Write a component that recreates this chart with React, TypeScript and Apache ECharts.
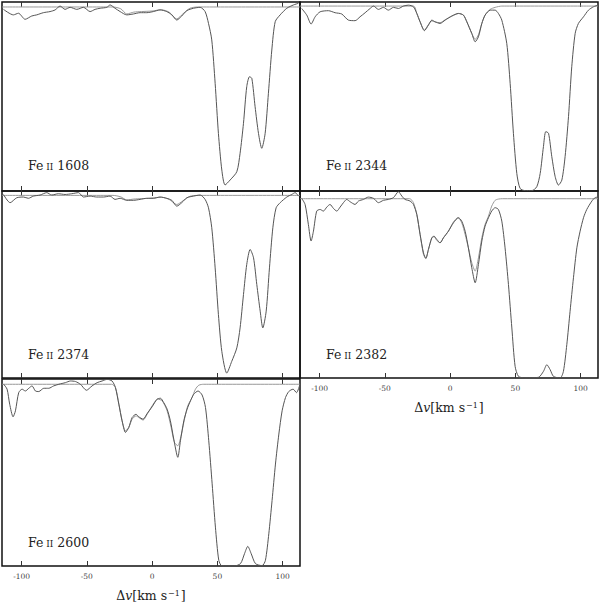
import React, { useEffect, useRef } from "react";
import * as echarts from "echarts";

// Velocity ticks (km/s)
const VEL_TICKS = [-100, -50, 0, 50, 100];
const LINE_NAMES = ["1608", "2344", "2374", "2382", "2600"];

// Fe II 1608 — observed spectrum [v, normalized flux]
const data1608: [number, number][] = [
  [-113.9, 0.987], [-106.3, 0.957], [-102.4, 0.966], [-97.3, 0.933], [-92.2, 0.951], [-88.4, 0.957],
  [-83.3, 0.969], [-78.2, 0.975], [-74.3, 0.984], [-70.5, 1.005], [-66.7, 0.987], [-62.8, 0.998],
  [-57.7, 0.987], [-52.6, 0.998], [-47.5, 0.975], [-43.7, 0.987], [-39.8, 0.993], [-34.7, 0.998],
  [-32.2, 1.011], [-28.4, 0.993], [-24.5, 0.975], [-19.4, 0.957], [-14.3, 0.962], [-9.2, 0.969],
  [-4.1, 0.969], [1.0, 0.975], [6.1, 0.984], [11.2, 0.975], [15.1, 0.957], [18.9, 0.929],
  [22.7, 0.951], [26.6, 0.98], [31.7, 0.993], [36.8, 0.998], [40.6, 0.975], [43.2, 0.911],
  [45.7, 0.821], [48.3, 0.585], [50.8, 0.313], [53.4, 0.114], [55.9, 0.033], [59.8, 0.06],
  [64.9, 0.105], [67.4, 0.205], [70.0, 0.368], [72.5, 0.567], [74.6, 0.621], [76.4, 0.612],
  [78.9, 0.458], [81.5, 0.313], [84.0, 0.232], [86.6, 0.313], [89.1, 0.531], [91.7, 0.766],
  [94.3, 0.92], [98.1, 0.957], [103.2, 0.993], [108.3, 1.011], [112.1, 1.02]
];
// Fe II 1608 — model
const model1608: [number, number][] = [
  [-115, 1.0], [-30, 1.0], [-24, 0.99], [-19.4, 0.962], [-14, 0.972], [-8, 0.975], [0, 0.978],
  [7, 0.985], [13, 0.972], [18.9, 0.935], [23.5, 0.962], [29, 0.993], [35, 1.0], [113.3, 1.0]
];

// Fe II 2344
const data2344: [number, number][] = [
  [-113.7, 0.987], [-109.8, 0.951], [-106.5, 0.903], [-103.4, 0.942], [-99.6, 0.969], [-93.2, 0.975],
  [-88.1, 0.964], [-83.0, 0.957], [-77.9, 0.924], [-72.8, 0.921], [-69.0, 0.942], [-65.1, 0.964],
  [-61.3, 0.987], [-58.7, 1.0], [-54.9, 0.982], [-51.1, 0.993], [-47.3, 0.978], [-43.4, 0.993],
  [-39.6, 0.987], [-35.8, 1.0], [-31.9, 1.005], [-28.1, 0.996], [-25.5, 0.96], [-23.0, 0.915],
  [-19.7, 0.867], [-16.6, 0.897], [-14.0, 0.924], [-11.5, 0.915], [-7.7, 0.906], [-3.8, 0.924],
  [1.3, 0.946], [6.4, 0.96], [10.2, 0.951], [12.8, 0.915], [16.6, 0.852], [19.2, 0.807],
  [21.7, 0.834], [24.3, 0.906], [26.8, 0.951], [30.7, 0.978], [34.5, 0.978], [37.0, 0.96],
  [39.6, 0.924], [43.4, 0.798], [46.0, 0.582], [48.5, 0.312], [51.1, 0.095], [53.6, 0.014],
  [57.5, 0.002], [62.6, 0.002], [66.4, 0.023], [69.0, 0.095], [71.5, 0.24], [73.3, 0.321],
  [75.4, 0.312], [77.9, 0.186], [80.5, 0.077], [83.0, 0.032], [85.6, 0.059], [88.1, 0.186],
  [90.7, 0.402], [93.2, 0.672], [95.8, 0.852], [98.3, 0.906], [102.2, 0.942], [106.0, 0.978],
  [109.8, 0.996], [113.3, 1.005]
];
const model2344: [number, number][] = [
  [-115, 1.0], [-28.1, 1.0], [-25.5, 0.96], [-23.0, 0.915], [-19.7, 0.87], [-16.6, 0.9], [-14.0, 0.92],
  [-11.5, 0.914], [-7.7, 0.91], [-3.8, 0.926], [1.3, 0.946], [6.4, 0.96], [10.2, 0.951], [12.8, 0.915],
  [16.6, 0.852], [19.2, 0.82], [21.7, 0.845], [24.3, 0.906], [26.8, 0.951], [30.7, 0.982],
  [34.5, 0.993], [39.6, 1.0], [113.3, 1.0]
];

// Fe II 2374
const data2374: [number, number][] = [
  [-113.9, 1.005], [-108.8, 0.96], [-103.7, 0.987], [-98.6, 0.991], [-94.8, 0.984], [-90.9, 0.996],
  [-85.8, 1.002], [-80.7, 1.015], [-76.9, 1.002], [-71.8, 1.009], [-66.7, 1.005], [-61.6, 1.009],
  [-56.4, 1.015], [-52.6, 0.991], [-47.5, 0.996], [-42.4, 0.991], [-37.3, 0.991], [-32.2, 0.996],
  [-28.4, 0.978], [-24.5, 0.984], [-19.4, 0.973], [-14.3, 0.973], [-9.2, 0.978], [-4.1, 0.984],
  [1.0, 0.984], [6.1, 0.991], [11.2, 0.984], [15.1, 0.973], [18.9, 0.941], [22.7, 0.96],
  [26.6, 0.987], [31.7, 0.996], [36.8, 1.002], [40.6, 0.978], [43.2, 0.932], [45.7, 0.823],
  [48.3, 0.603], [50.8, 0.347], [53.4, 0.146], [57.2, 0.027], [61.0, 0.091], [64.9, 0.165],
  [67.4, 0.274], [70.0, 0.457], [72.5, 0.622], [75.1, 0.704], [77.7, 0.658], [80.2, 0.512],
  [82.8, 0.366], [84.8, 0.274], [87.4, 0.366], [89.9, 0.603], [92.5, 0.823], [95.0, 0.932],
  [98.1, 0.96], [103.2, 0.991], [107.0, 1.005], [109.6, 1.015], [112.1, 0.996]
];
const model2374: [number, number][] = [
  [-115, 1.0], [-30, 1.0], [-24, 0.992], [-19.4, 0.975], [-14, 0.98], [-8, 0.982], [0, 0.985],
  [7, 0.99], [13, 0.978], [18.9, 0.95], [23.5, 0.97], [29, 0.995], [35, 1.0], [113.3, 1.0]
];

// Fe II 2382
const data2382: [number, number][] = [
  [-113.7, 1.002], [-111.1, 0.968], [-108.6, 0.857], [-106.5, 0.764], [-104.7, 0.819], [-102.2, 0.931],
  [-99.6, 0.94], [-97.1, 0.931], [-94.5, 0.953], [-92.0, 0.968], [-89.4, 0.946], [-86.8, 0.931],
  [-84.3, 0.953], [-81.7, 0.978], [-79.2, 0.996], [-76.6, 0.983], [-72.8, 0.968], [-70.2, 0.987],
  [-66.4, 0.996], [-62.6, 1.009], [-58.7, 1.002], [-54.9, 0.978], [-51.1, 0.991], [-47.3, 0.996],
  [-43.4, 1.006], [-39.6, 1.039], [-37.0, 1.015], [-34.5, 0.996], [-30.7, 0.987], [-28.1, 0.968],
  [-25.5, 0.912], [-23.0, 0.801], [-20.4, 0.698], [-18.6, 0.667], [-16.6, 0.717], [-14.0, 0.782],
  [-12.3, 0.791], [-10.2, 0.773], [-7.7, 0.754], [-5.1, 0.782], [-1.3, 0.819], [2.6, 0.866],
  [6.4, 0.894], [8.9, 0.875], [11.5, 0.819], [14.0, 0.726], [16.6, 0.615], [19.2, 0.531],
  [21.7, 0.633], [24.3, 0.764], [26.8, 0.847], [29.4, 0.894], [31.9, 0.931], [34.5, 0.95],
  [37.0, 0.94], [39.6, 0.875], [42.1, 0.726], [44.7, 0.521], [47.3, 0.279], [49.8, 0.065],
  [52.4, 0.009], [57.5, 0.0], [67.7, 0.004], [71.5, 0.037], [74.1, 0.074], [76.6, 0.047],
  [79.2, 0.009], [84.3, 0.0], [86.8, 0.037], [89.4, 0.186], [91.9, 0.372], [94.5, 0.559],
  [97.1, 0.726], [99.6, 0.819], [102.2, 0.894], [104.7, 0.94], [108.6, 0.987], [111.1, 1.006],
  [113.3, 1.009]
];
const model2382: [number, number][] = [
  [-115, 1.0], [-31, 1.0], [-28.1, 0.978], [-25.5, 0.912], [-23.0, 0.801], [-20.4, 0.689],
  [-18.6, 0.667], [-16.6, 0.717], [-14.0, 0.782], [-12.3, 0.788], [-10.2, 0.767], [-7.7, 0.754],
  [-5.1, 0.782], [-1.3, 0.819], [2.6, 0.871], [5.9, 0.894], [8.9, 0.866], [11.5, 0.801],
  [14.0, 0.726], [16.6, 0.643], [19.2, 0.596], [21.7, 0.67], [24.3, 0.782], [26.8, 0.857],
  [29.4, 0.903], [31.9, 0.959], [34.5, 0.991], [37.0, 0.998], [40.0, 1.0], [113.3, 1.0]
];

// Fe II 2600
const data2600: [number, number][] = [
  [-113.7, 1.0], [-111.1, 0.973], [-109.1, 0.89], [-106.5, 0.821], [-104.7, 0.854], [-102.2, 0.954],
  [-99.6, 0.973], [-97.1, 0.963], [-94.5, 0.978], [-92.0, 0.991], [-89.4, 0.963], [-86.8, 0.96],
  [-83.0, 0.978], [-79.2, 0.978], [-75.4, 0.991], [-71.5, 1.0], [-66.4, 1.009], [-62.6, 1.018],
  [-58.7, 1.015], [-54.9, 1.0], [-50.3, 0.967], [-46.0, 0.991], [-42.1, 1.009], [-38.3, 1.018],
  [-34.5, 1.027], [-30.7, 1.018], [-28.1, 0.982], [-25.5, 0.89], [-23.0, 0.799], [-20.4, 0.735],
  [-17.9, 0.762], [-15.3, 0.817], [-12.3, 0.835], [-10.2, 0.821], [-6.9, 0.808], [-3.8, 0.839],
  [0.0, 0.876], [3.8, 0.918], [6.4, 0.923], [8.9, 0.899], [11.5, 0.863], [14.0, 0.799],
  [16.6, 0.698], [19.7, 0.598], [21.7, 0.689], [24.3, 0.799], [26.8, 0.863], [29.4, 0.909],
  [31.9, 0.945], [35.2, 0.963], [38.3, 0.941], [40.9, 0.872], [43.4, 0.689], [46.0, 0.452],
  [48.5, 0.214], [51.1, 0.031], [53.6, 0.0], [62.6, 0.0], [67.7, 0.013], [70.8, 0.068],
  [73.3, 0.108], [75.9, 0.068], [79.2, 0.013], [84.3, 0.002], [86.8, 0.031], [89.4, 0.177],
  [91.9, 0.36], [94.5, 0.561], [97.1, 0.726], [99.6, 0.854], [102.2, 0.927], [104.7, 0.96],
  [108.0, 0.973], [110.6, 0.954], [113.3, 1.0]
];
const model2600: [number, number][] = [
  [-115, 1.0], [-31, 1.0], [-28.1, 0.982], [-25.5, 0.894], [-23.0, 0.799], [-20.4, 0.744],
  [-17.9, 0.762], [-15.3, 0.808], [-12.3, 0.826], [-10.2, 0.817], [-6.9, 0.803], [-3.8, 0.835],
  [0.0, 0.881], [4.3, 0.918], [7.7, 0.909], [11.5, 0.854], [14.6, 0.762], [17.1, 0.68],
  [19.7, 0.662], [22.2, 0.717], [24.8, 0.808], [27.3, 0.881], [30.6, 0.927], [33.2, 0.973],
  [35.8, 0.995], [39.6, 1.0], [113.3, 1.0]
];

const DATA_SERIES = [data1608, data2344, data2374, data2382, data2600];
const MODEL_SERIES = [model1608, model2344, model2374, model2382, model2600];
const Y_MAX = [1.027, 1.022, 1.024, 1.043, 1.029];

const SERIF = "'DejaVu Serif', serif";

const LAYOUT = [
  { grid: { left: 2, top: 2, width: 298, height: 189 }, labels: false, tx: 28, ty: 167 },
  { grid: { left: 300, top: 2, width: 298, height: 189 }, labels: false, tx: 326, ty: 167 },
  { grid: { left: 2, top: 191, width: 298, height: 187 }, labels: false, tx: 28, ty: 356 },
  { grid: { left: 300, top: 191, width: 298, height: 187 }, labels: true, tx: 326, ty: 356 },
  { grid: { left: 2, top: 379, width: 298, height: 188 }, labels: true, tx: 28, ty: 544 },
];

export default function App() {
  const ref = useRef<HTMLDivElement>(null);
  useEffect(() => {
    if (!ref.current) return;
    const chart = echarts.init(ref.current, undefined, { renderer: "svg" });
    const grids: any[] = [];
    const xAxes: any[] = [];
    const yAxes: any[] = [];
    const series: any[] = [];
    const graphics: any[] = [];
    const XMIN = -115;
    const XMAX = 113.3;
    LAYOUT.forEach((p, i) => {
      grids.push({ ...p.grid, show: true, borderColor: "#111", borderWidth: 1.5, backgroundColor: "transparent" });
      const tick = {
        show: true, inside: true, length: 5, customValues: VEL_TICKS,
        lineStyle: { color: "#333", width: 1 },
      };
      xAxes.push({
        gridIndex: i, type: "value", min: XMIN, max: XMAX, position: "bottom",
        axisLine: { show: false }, splitLine: { show: false }, axisTick: tick,
        axisLabel: {
          show: p.labels, customValues: VEL_TICKS, fontSize: 7.5, color: "#444",
          fontFamily: SERIF, margin: 6, formatter: (v: number) => String(v),
        },
        name: p.labels ? "{d|Δ}{v|v}{d|[km s}{s|−1}{d|]}" : "",
        nameLocation: "middle", nameGap: 23,
        nameTextStyle: {
          rich: {
            d: { fontSize: 12.5, fontFamily: SERIF, color: "#222" },
            v: { fontSize: 12.5, fontFamily: SERIF, fontStyle: "italic", color: "#222" },
            s: { fontSize: 8, fontFamily: SERIF, color: "#222", verticalAlign: "top", padding: [0, 1, 5, 1] },
          },
        },
      });
      xAxes.push({
        gridIndex: i, type: "value", min: XMIN, max: XMAX, position: "top",
        axisLine: { show: false }, splitLine: { show: false }, axisTick: tick,
        axisLabel: { show: false },
      });
      yAxes.push({ gridIndex: i, type: "value", min: 0, max: Y_MAX[i], show: false });
      series.push({
        type: "line", xAxisIndex: 2 * i, yAxisIndex: i, data: MODEL_SERIES[i],
        showSymbol: false, symbol: "none", silent: true, smooth: 0.25,
        lineStyle: { color: "#999", width: 1 },
      });
      series.push({
        type: "line", xAxisIndex: 2 * i, yAxisIndex: i, data: DATA_SERIES[i],
        showSymbol: false, symbol: "none", silent: true, smooth: 0.25,
        lineStyle: { color: "#555", width: 1 },
      });
      graphics.push({
        type: "text", left: p.tx, top: p.ty - 8, silent: true,
        style: {
          text: "{a|Fe}{b| II}{a| " + LINE_NAMES[i] + "}",
          rich: {
            a: { fontSize: 12.5, fontFamily: SERIF, fill: "#222", verticalAlign: "bottom" },
            b: { fontSize: 9, fontFamily: SERIF, fill: "#222", verticalAlign: "bottom", padding: [0, 0, 1, 0] },
          },
        },
      });
    });
    chart.setOption({
      animation: false,
      backgroundColor: "#fff",
      grid: grids,
      xAxis: xAxes,
      yAxis: yAxes,
      series,
      graphic: graphics,
    });
    return () => chart.dispose();
  }, []);
  return <div ref={ref} style={{ position: "absolute", left: 0, top: 0, width: 600, height: 603 }} />;
}
